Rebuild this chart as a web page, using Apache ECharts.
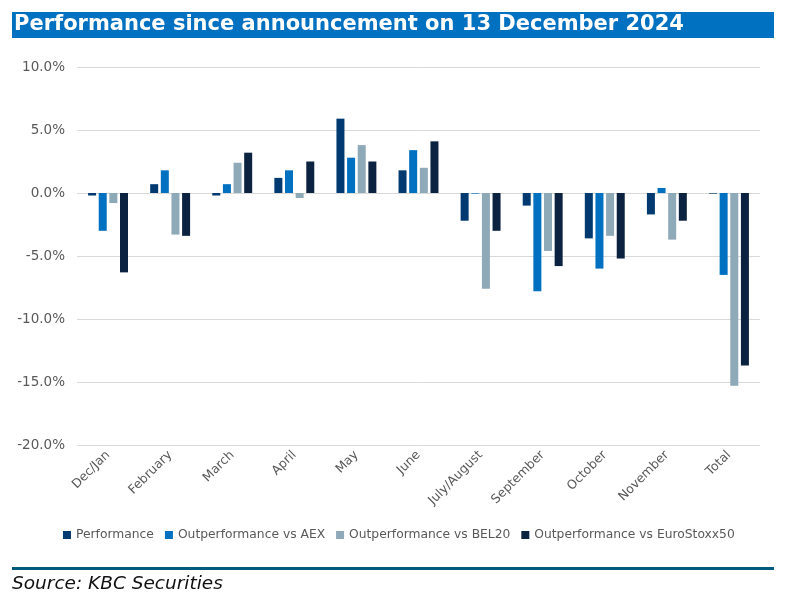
<!DOCTYPE html>
<html>
<head>
<meta charset="utf-8">
<script src="https://cdn.jsdelivr.net/npm/echarts@6/dist/echarts.min.js"></script>
<style>html,body{margin:0;padding:0;background:#fff}#c{width:802px;height:604px}</style>
</head>
<body>
<div id="c"></div>
<script>
var categories = ['Dec/Jan','February','March','April','May','June','July/August','September','October','November','Total'];
var performance = [-0.2, 0.7, -0.2, 1.2, 5.9, 1.8, -2.2, -1.0, -3.6, -1.7, -0.05];
var vsAEX = [-3.0, 1.8, 0.7, 1.8, 2.8, 3.4, -0.05, -7.8, -6.0, 0.4, -6.5];
var vsBEL20 = [-0.8, -3.3, 2.4, -0.4, 3.8, 2.0, -7.6, -4.6, -3.4, -3.7, -15.3];
var vsEuroStoxx50 = [-6.3, -3.4, 3.2, 2.5, 2.5, 4.1, -3.0, -5.8, -5.2, -2.2, -13.7];
var yTicks = {min: -20, max: 10, interval: 5};

var chart = echarts.init(document.getElementById('c'));
var font = 'DejaVu Sans';
function mk(name, data, color) {
  return {name: name, type: 'bar', data: data, barWidth: 8, barGap: '33%',
    itemStyle: {color: color}};
}
chart.setOption({
  animation: false,
  textStyle: {fontFamily: font},
  graphic: [
    {type: 'rect', shape: {x: 12, y: 12, width: 762, height: 26}, style: {fill: '#0070C0'}},
    {type: 'text', x: 14, y: 25, style: {text: 'Performance since announcement on 13 December 2024', fill: '#fff',
      fontFamily: font, fontWeight: 'bold', fontSize: 21, verticalAlign: 'middle'}},
    {type: 'rect', shape: {x: 12, y: 567, width: 762, height: 3}, style: {fill: '#005A7C'}},
    {type: 'text', x: 12, y: 584, style: {text: 'Source: KBC Securities', fill: '#111',
      fontFamily: font, fontStyle: 'italic', fontSize: 18.5, verticalAlign: 'middle'}}
  ],
  grid: {left: 77, right: 42, top: 67, bottom: 159},
  legend: {
    top: 524, left: 58, icon: 'rect', itemWidth: 8, itemHeight: 8, itemGap: 11,
    textStyle: {color: '#595959', fontSize: 12.3, fontFamily: font},
    data: ['Performance','Outperformance vs AEX','Outperformance vs BEL20','Outperformance vs EuroStoxx50']
  },
  xAxis: {
    type: 'category', data: categories,
    axisLine: {show: false, onZero: false}, axisTick: {show: false},
    axisLabel: {rotate: 45, color: '#595959', fontSize: 12.5, margin: 8, interval: 0, fontFamily: font}
  },
  yAxis: {
    type: 'value', min: yTicks.min, max: yTicks.max, interval: yTicks.interval,
    axisLabel: {formatter: function (v) { return v.toFixed(1) + '%'; }, color: '#595959', fontSize: 13.5, margin: 12, fontFamily: font},
    splitLine: {lineStyle: {color: '#D9D9D9', width: 1}},
    axisLine: {show: false}, axisTick: {show: false}
  },
  series: [
    mk('Performance', performance, '#003A70'),
    mk('Outperformance vs AEX', vsAEX, '#0070C0'),
    mk('Outperformance vs BEL20', vsBEL20, '#8EA9B7'),
    mk('Outperformance vs EuroStoxx50', vsEuroStoxx50, '#0B2240')
  ]
});
</script>
</body>
</html>
